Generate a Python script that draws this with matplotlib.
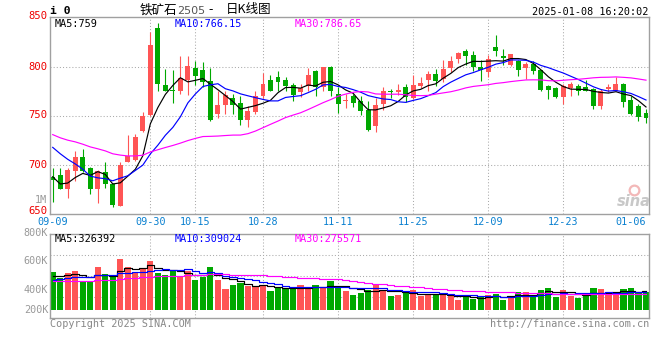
import matplotlib.pyplot as plt
import numpy as np

plt.rcParams['font.family'] = ['DejaVu Sans Mono']

# daily bars of i2505, 2024-09-09 .. 2025-01-08
open_px = [688, 690, 675, 694, 708, 697, 675, 693, 681, 658,
           703, 705, 735, 751, 840, 782, 777, 775, 787, 799,
           797, 786, 752, 761, 768, 763, 746, 754, 770, 787,
           790, 787, 782, 774, 781, 796, 780, 800, 772, 765,
           770, 765, 756, 740, 762, 775, 774, 780, 768, 781,
           787, 793, 788, 799, 808, 816, 812, 800, 795, 820,
           811, 802, 806, 799, 803, 797, 781, 779, 769, 779,
           781, 780, 778, 760, 778, 776, 783, 766, 760, 753]
close_px = [685, 675, 695, 708, 694, 675, 694, 681, 659, 700,
            709, 729, 750, 822, 783, 776, 775, 789, 801, 791,
            785, 746, 761, 771, 761, 746, 755, 770, 783, 776,
            785, 781, 771, 779, 792, 780, 800, 775, 762, 766,
            763, 755, 736, 761, 776, 774, 777, 769, 782, 784,
            793, 786, 798, 806, 814, 811, 800, 797, 808, 816,
            809, 813, 797, 803, 796, 777, 777, 769, 781, 783,
            776, 776, 760, 775, 780, 783, 764, 752, 749, 748]
high_px = [697, 697, 697, 714, 716, 698, 695, 703, 682, 703,
           731, 732, 754, 836, 845, 798, 797, 811, 811, 806,
           805, 799, 775, 775, 772, 770, 760, 775, 794, 792,
           796, 790, 784, 783, 799, 797, 800, 801, 780, 772,
           772, 770, 765, 768, 780, 778, 783, 783, 792, 790,
           796, 798, 807, 811, 815, 818, 816, 807, 812, 833,
           818, 813, 807, 805, 806, 797, 782, 780, 783, 785,
           783, 787, 779, 778, 783, 790, 784, 770, 762, 757]
low_px = [662, 675, 666, 684, 693, 670, 661, 677, 657, 658,
          703, 704, 734, 750, 775, 775, 763, 772, 771, 782,
          780, 745, 748, 752, 752, 741, 739, 752, 768, 775,
          775, 776, 765, 769, 775, 770, 775, 770, 753, 758,
          759, 751, 735, 734, 756, 768, 771, 764, 767, 779,
          776, 781, 785, 795, 804, 802, 796, 786, 790, 811,
          802, 801, 791, 788, 793, 775, 767, 768, 762, 770,
          771, 775, 757, 757, 774, 776, 759, 751, 745, 743]
volume_k = [650, 549, 622, 667, 470, 470, 722, 617, 588, 869,
            734, 633, 701, 835, 633, 600, 655, 561, 667, 516,
            561, 734, 516, 365, 432, 460, 403, 415, 427, 319,
            376, 360, 360, 432, 360, 432, 376, 487, 403, 319,
            264, 286, 336, 449, 336, 235, 252, 292, 348, 235,
            259, 264, 264, 235, 180, 235, 197, 225, 264, 281,
            180, 225, 314, 302, 247, 348, 381, 230, 336, 247,
            213, 252, 381, 365, 259, 259, 365, 381, 314, 314]

# sessions before 09-09, only used to seed the moving averages
prior_close = [772, 768, 760, 765, 758, 752, 745, 748, 740, 735,
               728, 729, 722, 715, 708, 712, 718, 722, 725, 728,
               740, 752, 755, 748, 745, 712, 690, 680, 673]
prior_volume_k = [480, 455, 470, 500, 440, 465, 490, 510, 460, 445,
                  470, 485, 455, 475, 490, 480, 460, 470, 475, 475,
                  430, 445, 470, 455, 460, 540, 590, 575, 545]

xtick_idx = [0, 13, 19, 28, 38, 48, 58, 68, 77]
xtick_labels = ['09-09', '09-30', '10-15', '10-28', '11-11',
                '11-25', '12-09', '12-23', '01-06']
price_ticks = [850, 800, 750, 700, 650]

UP = '#ff5555'
DOWN = '#00a800'
GRID = '#aaaaaa'
BORDER = '#a0a0a0'
MA_COLORS = ['black', '#0000ff', '#ff00ff']
W, H = 660, 360


def moving_average(prior, values, n):
    s = np.array(prior + values, dtype=float)
    ma = np.convolve(s, np.ones(n) / n, mode='valid')
    return ma[-len(values):]


def box(left, top, right, bottom):
    return [left / W, 1 - bottom / H, (right - left) / W, (bottom - top) / H]


def ftext(x, y, s, **kw):
    fig.text(x / W, 1 - y / H, s, va='center', **kw)


fig = plt.figure(figsize=(W / 100, H / 100), dpi=100)
ax = fig.add_axes(box(50, 17, 649, 214))
axv = fig.add_axes(box(50, 234, 649, 318))

x = np.arange(len(close_px))
o = np.array(open_px)
c = np.array(close_px)
colors = [UP if cc >= oo else DOWN for oo, cc in zip(o, c)]

# candles
ax.vlines(x, low_px, high_px, colors=colors, lw=0.8, zorder=2)
ax.bar(x, np.maximum(np.abs(c - o), 0.7), bottom=np.minimum(o, c),
       width=0.66, color=colors, linewidth=0, zorder=2)

for n, col in zip((5, 10, 30), MA_COLORS):
    ax.plot(x, moving_average(prior_close, close_px, n), color=col, lw=0.85, zorder=3)

# volume
axv.bar(x, volume_k, width=0.82, color=colors, linewidth=0, zorder=2)
for n, col in zip((5, 10, 30), MA_COLORS):
    axv.plot(x, moving_average(prior_volume_k, volume_k, n), color=col,
             lw=0.85, drawstyle='steps-mid', zorder=3)

dots = dict(color=GRID, lw=0.75, ls=(0, (1, 2)), zorder=0)
for v in (700, 750, 800):
    ax.axhline(v, **dots)
for f in (0.25, 0.5, 0.75):
    axv.plot([0, 1], [f, f], transform=axv.transAxes, **dots)
for i in xtick_idx[1:-1]:
    ax.axvline(i, **dots)
    axv.axvline(i, **dots)

for a in (ax, axv):
    a.set_xlim(-0.36, 79.4)
    for sp in a.spines.values():
        sp.set_color(BORDER)
        sp.set_linewidth(1.0)

ax.set_ylim(650, 851)
ax.set_yticks([])
ax.set_xticks(xtick_idx, xtick_labels)
ax.tick_params(axis='x', length=0, pad=2.5, labelcolor='#0a80d0', labelsize=7.3)

# price labels sit a little above their level, as in the original
for v, ypx in zip(price_ticks, (16, 66.5, 115.5, 165, 210.5)):
    ftext(47.5, ypx, str(v), ha='right', color='#ee0000', fontsize=7.6)
ftext(47.5, 200, '1M', ha='right', color='#999999', fontsize=7.3)

axv.set_ylim(-128, 1283)
axv.set_xticks([])
axv.set_yticks([])
for lab, f in (('800K', 1.012), ('600K', 0.682), ('400K', 0.337), ('200K', 0.099)):
    axv.text(-0.003, f, lab, transform=axv.transAxes, ha='right', va='center',
             color='#999999', fontsize=7.3)

# sina watermark
ax.plot([0.975], [0.12], transform=ax.transAxes, marker='o', ms=7, mfc='none',
        mec='#f3b8b8', mew=1.6, zorder=1)
ftext(651, 202, 'sina', ha='right', color='#c8c8c8', fontsize=10.5,
      style='italic', weight='bold', family='DejaVu Sans')

# header texts
ftext(50, 11.5, 'i 0', ha='left', weight='bold', fontsize=8.2)
cjk = ['Noto Sans CJK SC', 'DejaVu Sans']
ftext(140, 10, '铁矿石', ha='left', fontsize=9, family=cjk)
ftext(177, 10.5, '2505', ha='left', fontsize=8, color='#555555', family='DejaVu Sans')
ftext(208, 10, '-', ha='left', fontsize=9, family=cjk)
ftext(226, 10, '日K线图', ha='left', fontsize=9, family=cjk)
ftext(648, 12, '2025-01-08 16:20:02', ha='right', fontsize=7.3)

ftext(55, 23.7, 'MA5:759', ha='left', fontsize=7.3, color=MA_COLORS[0])
ftext(175, 23.7, 'MA10:766.15', ha='left', fontsize=7.3, color=MA_COLORS[1])
ftext(295, 23.7, 'MA30:786.65', ha='left', fontsize=7.3, color=MA_COLORS[2])

ftext(55, 238.5, 'MA5:326392', ha='left', fontsize=7.3, color=MA_COLORS[0])
ftext(175, 238.5, 'MA10:309024', ha='left', fontsize=7.3, color=MA_COLORS[1])
ftext(295, 238.5, 'MA30:275571', ha='left', fontsize=7.3, color=MA_COLORS[2])

ftext(50, 324, 'Copyright 2025 SINA.COM', ha='left', fontsize=7.3, color='#888888')
ftext(649, 324, 'http://finance.sina.com.cn', ha='right', fontsize=7.3, color='#888888')

fig.savefig('out.png', dpi=100)
